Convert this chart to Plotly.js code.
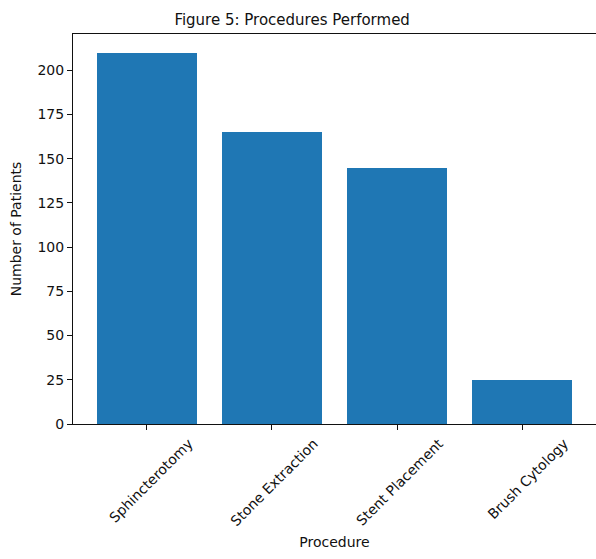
<!DOCTYPE html>
<html>
<head>
<meta charset="utf-8">
<script src="https://cdn.plot.ly/plotly-3.0.1.min.js"></script>
<style>html,body{margin:0;padding:0;background:#fff;}#chart{width:596px;height:559px;}</style>
</head>
<body>
<div id="chart"></div>
<script>
const procedures = ["Sphincterotomy", "Stone Extraction", "Stent Placement", "Brush Cytology"];
const patients = [210, 165, 145, 25];
const yTicks = [0, 25, 50, 75, 100, 125, 150, 175, 200];

const font = "DejaVu Sans, sans-serif";
const trace = {
  type: "bar",
  x: procedures.map((_, i) => i),
  y: patients,
  width: 0.8,
  marker: {color: "#1f77b4", line: {width: 0}},
  hoverinfo: "x+y"
};
const layout = {
  width: 596, height: 559,
  margin: {l: 73, r: 0, t: 34, b: 135, pad: 0},
  paper_bgcolor: "#fff", plot_bgcolor: "#fff",
  font: {family: font, size: 14, color: "#111"},
  showlegend: false,
  title: {text: "Figure 5: Procedures Performed", font: {family: font, size: 15, color: "#111"},
          xref: "paper", x: 0.419, xanchor: "center", yref: "container", y: 0.964, yanchor: "middle"},
  bargap: 0,
  xaxis: {
    range: [-0.59, 3.59], tickmode: "array", tickvals: procedures.map((_, i) => i), ticktext: procedures,
    tickangle: -45, ticks: "outside", ticklen: 5, tickwidth: 1, tickcolor: "#111",
    ticklabelshift: 42, ticklabelstandoff: 0,
    showline: true, linecolor: "#111", linewidth: 1, mirror: true, showgrid: false, zeroline: false,
    tickfont: {family: font, size: 14, color: "#111"},
    title: {text: "Procedure", font: {family: font, size: 14, color: "#111"}, standoff: 9}
  },
  yaxis: {
    range: [0, 220.5], tickmode: "array", tickvals: yTicks,
    ticks: "outside", ticklen: 5, tickwidth: 1, tickcolor: "#111",
    showline: true, linecolor: "#111", linewidth: 1, mirror: false, showgrid: false, zeroline: false,
    tickfont: {family: font, size: 14, color: "#111"},
    title: {text: "Number of Patients", font: {family: font, size: 14, color: "#111"}, standoff: 12}
  }
};
Plotly.newPlot("chart", [trace], layout, {displayModeBar: false, staticPlot: true});
</script>
</body>
</html>
